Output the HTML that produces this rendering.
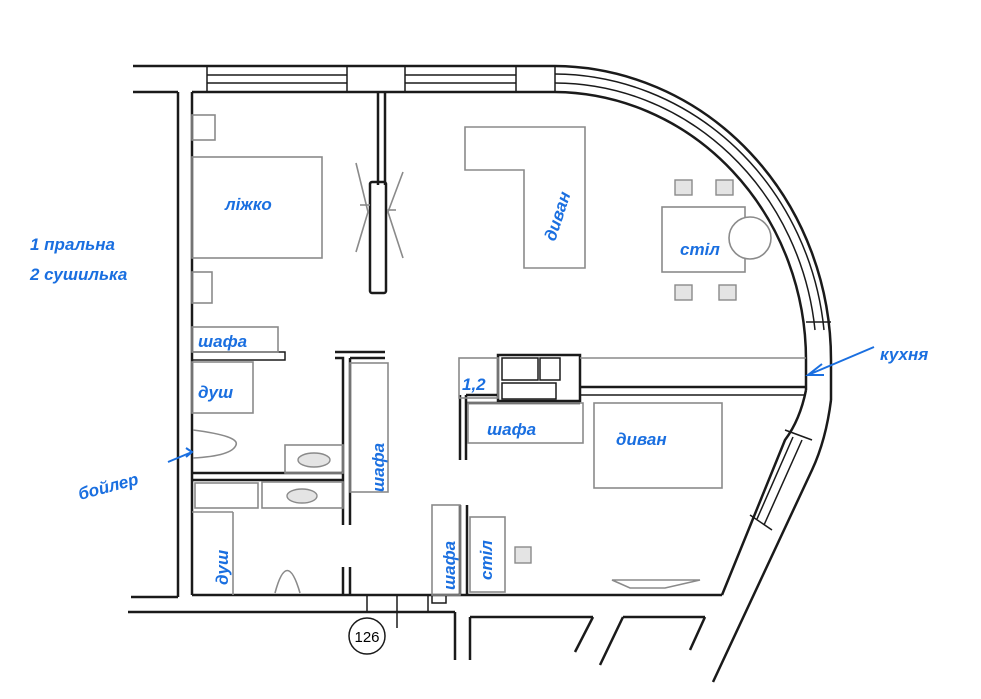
<!DOCTYPE html>
<html><head><meta charset="utf-8"><style>
html,body{margin:0;padding:0;background:#fff;}
svg{display:block;}
.w{stroke:#1a1a1a;stroke-width:2.5;fill:none;}
.t{stroke:#1a1a1a;stroke-width:1.5;fill:none;}
.g{stroke:#8a8a8a;stroke-width:1.6;fill:none;}
.gf{stroke:#8a8a8a;stroke-width:1.4;fill:#e4e4e4;}
.b{fill:#1a6fe0;font-family:"Liberation Sans","DejaVu Sans",sans-serif;font-style:italic;font-weight:bold;font-size:17px;}
.ba{stroke:#1a6fe0;stroke-width:2;fill:none;}
</style></head><body>
<svg width="981" height="699" viewBox="0 0 981 699" xmlns="http://www.w3.org/2000/svg">
<rect width="981" height="699" fill="#fff"/>
<line class="w" x1="133" y1="66" x2="555" y2="66"/>
<line class="w" x1="133" y1="92" x2="178" y2="92"/>
<line class="w" x1="192" y1="92" x2="555" y2="92"/>
<g class="t">
<rect x="207" y="66" width="140" height="26"/><line x1="207" y1="75" x2="347" y2="75"/><line x1="207" y1="83" x2="347" y2="83"/>
<rect x="405" y="66" width="111" height="26"/><line x1="405" y1="75" x2="516" y2="75"/><line x1="405" y1="83" x2="516" y2="83"/>
<line x1="555" y1="66" x2="555" y2="92"/>
</g>
<line class="w" x1="178" y1="92" x2="178" y2="597"/>
<line class="w" x1="192" y1="92" x2="192" y2="595"/>
<line class="w" x1="131" y1="597" x2="178" y2="597"/>
<line class="w" x1="128" y1="612" x2="455" y2="612"/>
<line class="w" x1="192" y1="595" x2="722" y2="595"/>
<path class="w" d="M555 66 A278 294 0 0 1 831 360 L831 400"/>
<path class="w" d="M555 92 A253 268 0 0 1 806 360 L806 390"/>
<path class="t" d="M555 74 A272 286 0 0 1 824 330"/>
<path class="t" d="M555 83 A262 277 0 0 1 815 330"/>
<line class="t" x1="806" y1="322" x2="831" y2="322"/>
<path class="w" d="M806 390 Q800 420 785 440 L722 595"/>
<path class="w" d="M831 400 Q826 440 812 470 L713 682"/>
<line class="t" x1="785" y1="430" x2="812" y2="440"/>
<line class="t" x1="750" y1="515" x2="772" y2="530"/>
<line class="t" x1="793" y1="437" x2="757" y2="519"/>
<line class="t" x1="802" y1="440" x2="764" y2="525"/>
<line class="w" x1="455" y1="612" x2="455" y2="660"/>
<line class="w" x1="470" y1="617" x2="470" y2="660"/>
<line class="w" x1="470" y1="617" x2="593" y2="617"/>
<line class="w" x1="593" y1="617" x2="575" y2="652"/>
<line class="w" x1="623" y1="617" x2="705" y2="617"/>
<line class="w" x1="623" y1="617" x2="600" y2="665"/>
<line class="w" x1="705" y1="617" x2="690" y2="650"/>
<line class="t" x1="367" y1="595" x2="367" y2="612"/>
<line class="t" x1="397" y1="595" x2="397" y2="628"/>
<line class="t" x1="428" y1="595" x2="428" y2="612"/>
<rect class="t" x="432" y="595" width="14" height="8"/>
<circle class="t" cx="367" cy="636" r="18"/>
<text x="367" y="642" font-family="Liberation Sans" font-size="15" text-anchor="middle">126</text>
<line class="w" x1="378" y1="92" x2="378" y2="185"/>
<line class="w" x1="385" y1="92" x2="385" y2="185"/>
<rect class="w" x="370" y="182" width="16" height="111" rx="2"/>
<g class="g"><path d="M356 163 L368 212 L356 252"/><path d="M403 172 L388 212 L403 258"/><line x1="360" y1="205" x2="370" y2="205"/><line x1="387" y1="210" x2="396" y2="210"/></g>
<rect class="t" x="192" y="352" width="93" height="8"/>
<path class="w" d="M335 352 L385 352 M335 358 L343 358 L343 475 M350 358 L385 358 M350 358 L350 525 M343 525 L343 475"/>
<line class="w" x1="343" y1="567" x2="343" y2="595"/><line class="w" x1="350" y1="567" x2="350" y2="595"/>
<line class="w" x1="192" y1="473" x2="343" y2="473"/>
<line class="w" x1="192" y1="480" x2="343" y2="480"/>
<line class="w" x1="460" y1="395" x2="460" y2="460"/>
<line class="w" x1="466" y1="395" x2="466" y2="460"/>
<line class="w" x1="460" y1="505" x2="460" y2="595"/>
<line class="w" x1="467" y1="505" x2="467" y2="595"/>
<rect class="w" x="498" y="355" width="82" height="46"/>
<rect class="t" x="502" y="358" width="36" height="22"/><rect class="t" x="540" y="358" width="20" height="22"/><rect class="t" x="502" y="383" width="54" height="16"/>
<line class="w" x1="466" y1="395" x2="498" y2="395"/><line class="w" x1="466" y1="403" x2="580" y2="403"/>
<line class="w" x1="580" y1="387" x2="806" y2="387"/>
<line class="t" x1="580" y1="395" x2="806" y2="395"/>
<line class="g" x1="580" y1="358" x2="806" y2="358"/>
<g class="g">
<rect x="192" y="115" width="23" height="25"/>
<rect x="192" y="272" width="20" height="31"/>
<rect x="192" y="157" width="130" height="101"/>
<rect x="192" y="327" width="86" height="25"/>
<rect x="192" y="362" width="61" height="51"/>
<path d="M193 430 Q240 436 236 445 Q232 456 193 458"/>
<rect x="285" y="445" width="58" height="28"/>
<rect x="262" y="482" width="81" height="26"/>
<rect x="195" y="483" width="63" height="25"/>
<line x1="233" y1="512" x2="233" y2="595"/>
<line x1="192" y1="512" x2="233" y2="512"/>
<path d="M275 593 Q287 548 300 593"/>
<rect x="350" y="363" width="38" height="129"/>
<path d="M465 127 L585 127 L585 268 L524 268 L524 170 L465 170 Z"/>
<rect x="662" y="207" width="83" height="65"/>
<circle cx="750" cy="238" r="21" fill="#fff"/>
<rect x="459" y="358" width="39" height="40"/>
<rect x="468" y="403" width="115" height="40"/>
<rect x="594" y="403" width="128" height="85"/>
<rect x="432" y="505" width="28" height="90"/>
<rect x="470" y="517" width="35" height="75"/>
<path d="M612 580 L700 580 L665 588 L630 588 Z"/>
</g>
<g class="gf">
<ellipse cx="314" cy="460" rx="16" ry="7"/>
<ellipse cx="302" cy="496" rx="15" ry="7"/>
<rect x="675" y="180" width="17" height="15"/><rect x="716" y="180" width="17" height="15"/>
<rect x="675" y="285" width="17" height="15"/><rect x="719" y="285" width="17" height="15"/>
<rect x="515" y="547" width="16" height="16"/>
</g>
<text class="b" x="225" y="210">ліжко</text>
<text class="b" x="30" y="250">1 пральна</text>
<text class="b" x="30" y="280">2 сушилька</text>
<text class="b" x="198" y="347" font-size="15">шафа</text>
<text class="b" x="198" y="398" font-size="20">душ</text>
<text class="b" x="80" y="500" font-size="19" transform="rotate(-15 80 500)">бойлер</text>
<path class="ba" d="M168 462 L192 452 M186 448 L192 452 L186 457"/>
<text class="b" transform="translate(384 492) rotate(-90)" font-size="17">шафа</text>
<text class="b" transform="translate(228 585) rotate(-90)" font-size="20">душ</text>
<text class="b" transform="translate(555 242) rotate(-72)" font-size="18">диван</text>
<text class="b" x="680" y="255">стіл</text>
<text class="b" x="880" y="360" font-size="18">кухня</text>
<path class="ba" d="M874 347 L808 375 M822 364 L808 375 L824 375"/>
<text class="b" x="462" y="390">1,2</text>
<text class="b" x="487" y="435" font-size="15">шафа</text>
<text class="b" x="616" y="445" font-size="18">диван</text>
<text class="b" transform="translate(455 590) rotate(-90)" font-size="16">шафа</text>
<text class="b" transform="translate(492 580) rotate(-90)" font-size="16">стіл</text>
</svg>
</body></html>
